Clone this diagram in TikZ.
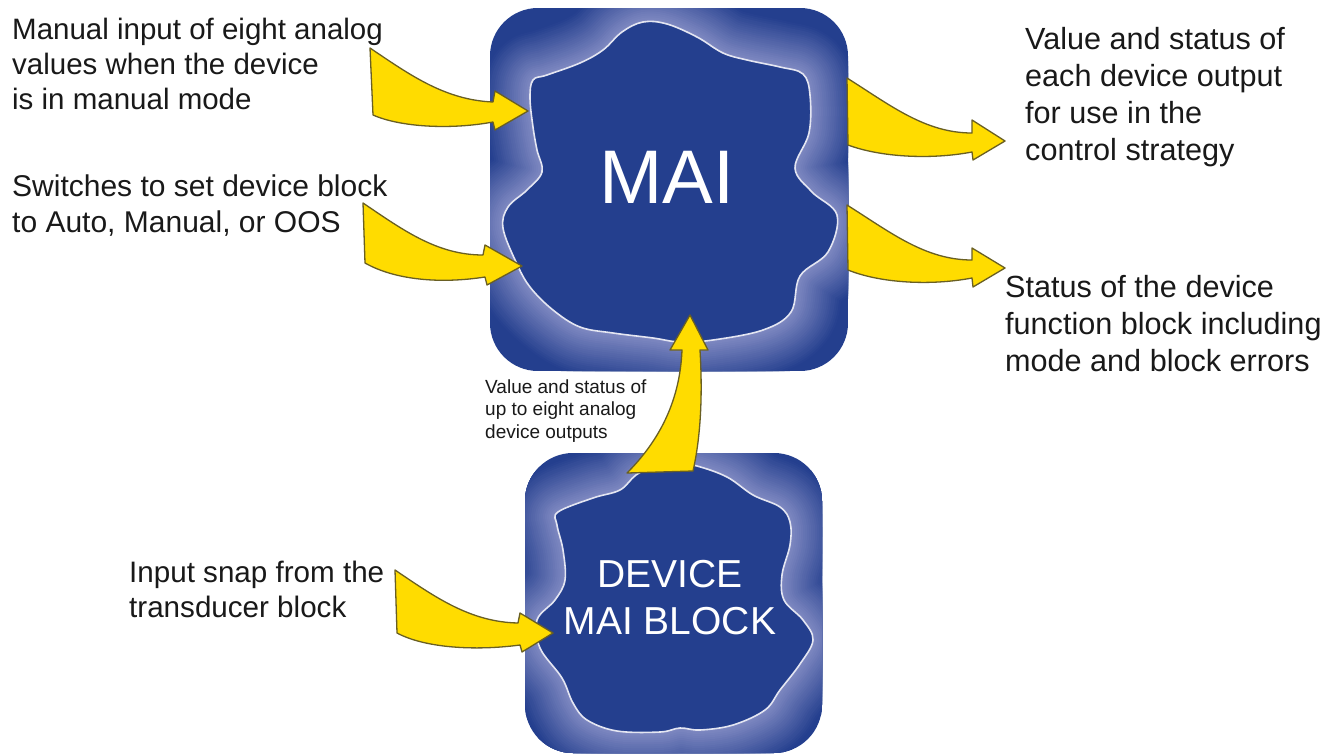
\documentclass[tikz,border=0pt]{standalone}
\usepackage{fontspec}
\setmainfont{Liberation Sans}
\definecolor{blockblue}{RGB}{36,63,142}
\definecolor{glowc}{RGB}{178,178,222}
\definecolor{arrowyellow}{RGB}{255,220,0}
\definecolor{arrowedge}{RGB}{105,95,35}
\definecolor{txt}{RGB}{25,25,25}
\definecolor{rim}{RGB}{228,230,242}
\tikzset{
  bigarrow/.style={fill=arrowyellow, draw=arrowedge, line width=1.3, line join=round},
  lbl/.style={anchor=base west, inner sep=0, text=txt, font=\fontsize{30}{36.5}\selectfont},
  smalllbl/.style={anchor=base west, inner sep=0, text=txt, font=\fontsize{19}{22.5}\selectfont},
  blocktext/.style={text=white, inner sep=0, anchor=base},
  outerblock/.style={rounded corners=48},
}
\newcommand\tlines[1]{\parbox[t]{400pt}{\raggedright #1}}
\newcommand\mymaiin[1]{\path[#1] plot[smooth cycle, tension=0.6] coordinates {
 (533,80) (547,75) (580,63) (603,50) (622,32) (643,22) (667,24) (697,37) (723,53) (747,60) (780,67) (803,74)
 (810,95) (809,133) (795,168) (812,192) (837,215) (828,252) (800,276) (791,312) (763,330) (713,340)
 (680,342) (653,338) (613,333) (580,327) (553,310) (530,287) (516,262) (503,228) (508,207) (527,190)
 (542,172) (537,150) (533,127) (530,98)};}
\newcommand\mydevin[1]{\path[#1] plot[smooth cycle, tension=0.6] coordinates {
 (558,512) (593,498) (620,490) (636,475) (655,466) (676,463) (697,466) (727,477) (753,495) (780,507) (790,522)
 (790,545) (782,575) (784,600) (803,620) (813,640) (800,664) (780,690) (765,710) (733,725) (700,730)
 (680,728) (660,732) (617,731) (587,720) (573,703) (562,678) (540,648) (537,620) (555,600) (565,580)
 (563,550) (557,525)};}
\begin{document}
\begin{tikzpicture}[x=1pt, y=-1pt]
\useasboundingbox (0,0) rectangle (1339,753);
\clip (0,0) rectangle (1339,753);
\fill[white] (0,0) rectangle (1339,753);

% MAI block
\begin{scope}
  \clip[outerblock] (490,8) rectangle (848,371);
  \fill[blockblue] (490,8) rectangle (848,371);
  \foreach \d [evaluate=\d as \p using {int(66*(1-\d/48))}] in {48,46,...,2}
    {\mymaiin{draw=glowc!\p!blockblue, line width=2*\d, line join=round}}
  \mymaiin{fill=blockblue, draw=rim, line width=1.6}
\end{scope}

% DEVICE block
\begin{scope}
  \clip[outerblock] (525,453) rectangle (822,753);
  \fill[blockblue] (525,453) rectangle (822,753);
  \foreach \d [evaluate=\d as \p using {int(66*(1-\d/48))}] in {48,46,...,2}
    {\mydevin{draw=glowc!\p!blockblue, line width=2*\d, line join=round}}
  \mydevin{fill=blockblue, draw=rim, line width=1.6}
\end{scope}

\node[blocktext, font=\fontsize{76}{90}\selectfont] (mai) at (667,203) {MAI};
\node[blocktext, font=\fontsize{39}{47}\selectfont] (dev) at (670,587)
  {\parbox[t]{300pt}{\centering DEVICE\\MAI BLOCK}};

% arrows
\path[bigarrow] (370,48) .. controls (410,75) and (445,100) .. (493,102) -- (495,91) -- (528,111)
  -- (495,130) -- (493,122) .. controls (450,130) and (400,127) .. (373,115) -- cycle;
\path[bigarrow] (363,203) .. controls (403,230) and (437,255) .. (483,255) -- (485,245) -- (522,266)
  -- (487,285) -- (485,277) .. controls (440,284) and (395,280) .. (365,263) -- cycle;
\path[bigarrow] (395,570) .. controls (435,597) and (470,622) .. (518,623) -- (520,613) -- (553,633)
  -- (522,652) -- (520,645) .. controls (475,651) and (425,648) .. (397,633) -- cycle;
\path[bigarrow] (847,78) .. controls (890,105) and (925,133) .. (972,133) -- (972,120) -- (1005,141)
  -- (973,160) -- (972,152) .. controls (930,160) and (880,157) .. (848,145) -- cycle;
\path[bigarrow] (847,205) .. controls (890,232) and (925,260) .. (972,260) -- (972,248) -- (1005,268)
  -- (973,287) -- (972,278) .. controls (930,286) and (880,283) .. (848,270) -- cycle;
\path[bigarrow] (627,473) .. controls (660,440) and (680,400) .. (682,350) -- (670,350) -- (690,315)
  -- (708,350) -- (700,350) .. controls (703,400) and (700,440) .. (693,471) -- cycle;

% labels
\node[lbl, font=\fontsize{29.5}{35}\selectfont] (t1) at (12,39) {\tlines{Manual input of eight analog\\values when the device\\is in manual mode}};
\node[lbl] (t2) at (12,196) {\tlines{Switches to set device block\\to Auto, Manual, or OOS}};
\node[lbl, font=\fontsize{30.6}{37}\selectfont] (t3) at (1025,49) {\tlines{Value and status of\\each device output\\for use in the\\control strategy}};
\node[lbl, font=\fontsize{30.6}{37}\selectfont] (t4) at (1005,297) {\tlines{Status of the device\\function block including\\mode and block errors}};
\node[lbl, font=\fontsize{29.6}{35}\selectfont] (t6) at (129,582) {\tlines{Input snap from the\\transducer block}};
\node[smalllbl] (t5) at (485,393) {\tlines{Value and status of\\up to eight analog\\device outputs}};
\end{tikzpicture}
\end{document}
